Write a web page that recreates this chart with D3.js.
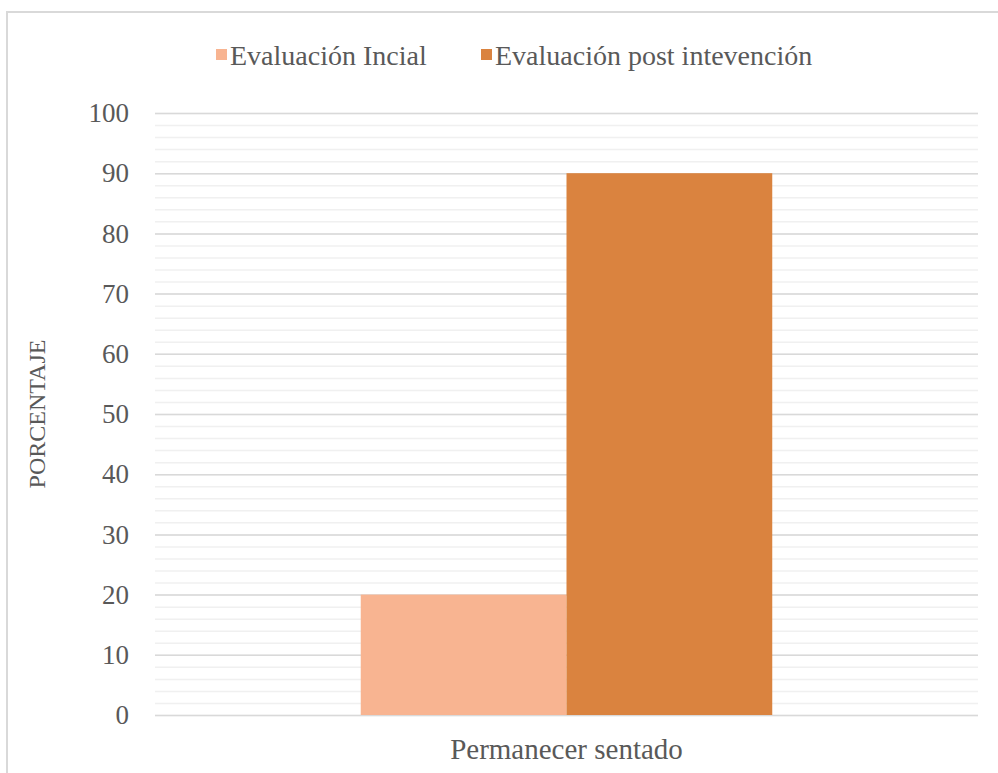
<!DOCTYPE html>
<html>
<head>
<meta charset="utf-8">
<script src="https://cdn.jsdelivr.net/npm/d3@7"></script>
<style>
  body { margin: 0; background: #fff; }
  text { font-family: "Liberation Serif", "DejaVu Serif", serif; fill: #595959; }
</style>
</head>
<body>
<div id="graph"></div>
<script>
var width = 998;
var height = 773;
var margin = { top: 113, bottom: 58, left: 155, right: 20 };

// data
var categories = ["Permanecer sentado"];
var seriesNames = ["Evaluación Incial", "Evaluación post intevención"];
var seriesValues = [20, 90];
var seriesColors = ["#F8B491", "#DA833F"];
var yTicks = [0, 10, 20, 30, 40, 50, 60, 70, 80, 90, 100];

var svg = d3.select("#graph")
  .append("svg")
  .attr("width", width)
  .attr("height", height);

// outer chart border (only top / left visible)
svg.append("rect")
  .attr("x", 7).attr("y", 12)
  .attr("width", 1100).attr("height", 900)
  .attr("fill", "none")
  .attr("stroke", "#d9d9d9")
  .attr("stroke-width", 2);

var xScale = d3.scaleBand()
  .domain(categories)
  .range([margin.left, width - margin.right])
  .paddingInner(0).paddingOuter(0.5);

var xSub = d3.scaleBand()
  .domain(seriesNames)
  .range([0, xScale.bandwidth()]);

var yScale = d3.scaleLinear()
  .domain([0, 100])
  .range([height - margin.bottom, margin.top]);

// minor gridlines every 2
svg.append("g")
  .attr("transform", "translate(" + margin.left + ",0)")
  .call(d3.axisLeft(yScale).tickValues(d3.range(0, 101, 2)).tickSize(-(width - margin.left - margin.right)).tickFormat(""))
  .call(function(g) { g.select(".domain").remove(); })
  .selectAll(".tick line")
    .attr("stroke", "#f0f0f0")
    .attr("stroke-width", 1.5);

// major gridlines every 10
var yAxis = svg.append("g")
  .attr("class", "y axis")
  .attr("transform", "translate(" + margin.left + ",0)")
  .call(d3.axisLeft(yScale).tickValues(yTicks).tickSize(-(width - margin.left - margin.right)).tickPadding(26));
yAxis.select(".domain").remove();
yAxis.selectAll(".tick line")
  .attr("stroke", "#d9d9d9")
  .attr("stroke-width", 1.5);
yAxis.selectAll(".tick text")
  .attr("font-size", "27px")
  .style("font-family", '"Liberation Serif", serif')
  .attr("fill", "#595959");

// bars
var group = svg.selectAll(".cat")
  .data(categories)
  .enter()
  .append("g")
  .attr("class", "cat")
  .attr("transform", function(d) { return "translate(" + xScale(d) + ",0)"; });

group.selectAll("rect")
  .data(function(d, ci) {
    return seriesNames.map(function(s, i) { return { name: s, value: seriesValues[i], color: seriesColors[i] }; });
  })
  .enter()
  .append("rect")
  .attr("x", function(d) { return xSub(d.name); })
  .attr("y", function(d) { return yScale(d.value); })
  .attr("width", xSub.bandwidth())
  .attr("height", function(d) { return yScale(0) - yScale(d.value); })
  .attr("fill", function(d) { return d.color; });

// x axis labels
svg.append("g")
  .selectAll("text")
  .data(categories)
  .enter()
  .append("text")
  .attr("x", function(d) { return xScale(d) + xScale.bandwidth() / 2; })
  .attr("y", 759)
  .attr("text-anchor", "middle")
  .attr("font-size", "29px")
  .text(function(d) { return d; });

// y axis title
svg.append("text")
  .attr("transform", "translate(45," + ((yScale(0) + yScale(100)) / 2) + ") rotate(-90)")
  .attr("text-anchor", "middle")
  .attr("font-size", "24px")
  .text("PORCENTAJE");

// legend
var legendX = [216, 481];
var legend = svg.append("g").attr("class", "legend");
seriesNames.forEach(function(s, i) {
  legend.append("rect")
    .attr("x", legendX[i]).attr("y", 49)
    .attr("width", 11).attr("height", 11)
    .attr("fill", seriesColors[i]);
  legend.append("text")
    .attr("x", legendX[i] + 14).attr("y", 65)
    .attr("font-size", "28px")
    .text(s);
});
</script>
</body>
</html>
